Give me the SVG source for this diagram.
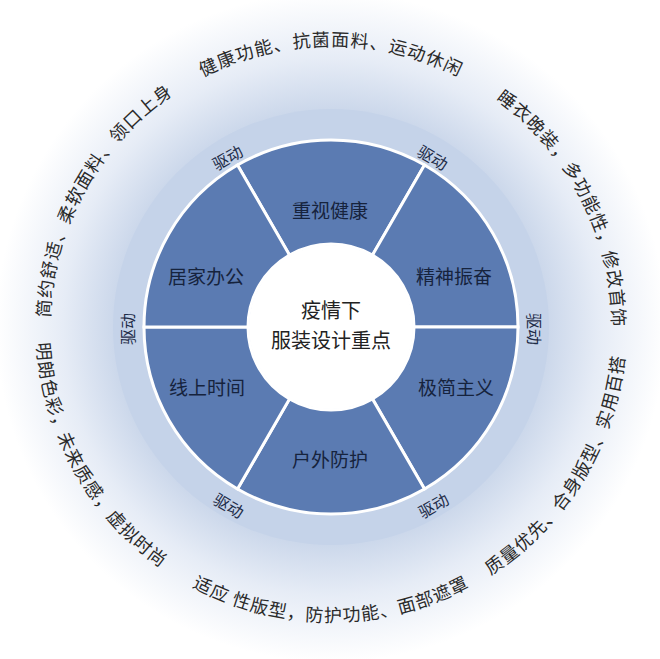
<svg xmlns="http://www.w3.org/2000/svg" xmlns:xlink="http://www.w3.org/1999/xlink" width="660" height="659" viewBox="0 0 660 659">
<style>
text{font-family:"Noto Sans CJK SC","Noto Sans",sans-serif}
.seg{fill:#5b7bb2;stroke:#ffffff;stroke-width:3}
.lbl{font-size:19px;fill:#16233d;text-anchor:middle;dominant-baseline:central}
.drv{font-size:16px;fill:#1e2c48;text-anchor:middle;dominant-baseline:central}
.out{font-size:18px;fill:#2a2a2a;letter-spacing:1px}
</style>
<defs>
<radialGradient id="glow" cx="331" cy="327" r="335" gradientUnits="userSpaceOnUse">
<stop offset="0.6" stop-color="#c3d1e7"/>
<stop offset="0.8" stop-color="#e6ecf6"/>
<stop offset="1" stop-color="#ffffff"/>
</radialGradient>
<path id="p1" d="M154.2,545.4 A281,281 0 0 1 422.5,61.3"/>
<path id="p2" d="M54.3,278.2 A281,281 0 0 1 607.7,278.2"/>
<path id="p3" d="M248.8,58.3 A281,281 0 0 1 500.1,551.4"/>
<path id="p4" d="M222.9,601.5 A295,295 0 0 0 526.5,106.0"/>
<path id="p5" d="M40.5,378.2 A295,295 0 0 0 621.5,378.2"/>
<path id="p6" d="M145.4,97.8 A295,295 0 0 0 427.0,605.9"/>
</defs>
<rect width="660" height="659" fill="#ffffff"/>
<circle cx="331" cy="327" r="335" fill="url(#glow)"/>
<circle id="ring" cx="331" cy="327" r="218" fill="#c5d3e9"/>
<g id="n-top"><path class="seg" d="M237.5,165 A187,187 0 0 1 424.5,165 L372.5,255.1 A83,83 0 0 0 289.5,255.1 Z"/><text class="lbl" x="330" y="209">重视健康</text></g>
<g id="n-ur"><path class="seg" d="M424.5,165 A187,187 0 0 1 518,327 L414,327 A83,83 0 0 0 372.5,255.1 Z"/><text class="lbl" x="454" y="275">精神振奋</text></g>
<g id="n-lr"><path class="seg" d="M518,327 A187,187 0 0 1 424.5,489 L372.5,398.9 A83,83 0 0 0 414,327 Z"/><text class="lbl" x="456" y="386">极简主义</text></g>
<g id="n-bot"><path class="seg" d="M424.5,489 A187,187 0 0 1 237.5,489 L289.5,398.9 A83,83 0 0 0 372.5,398.9 Z"/><text class="lbl" x="330" y="458">户外防护</text></g>
<g id="n-ll"><path class="seg" d="M237.5,489 A187,187 0 0 1 144,327 L248,327 A83,83 0 0 0 289.5,398.9 Z"/><text class="lbl" x="207" y="386">线上时间</text></g>
<g id="n-ul"><path class="seg" d="M144,327 A187,187 0 0 1 237.5,165 L289.5,255.1 A83,83 0 0 0 248,327 Z"/><text class="lbl" x="206" y="275">居家办公</text></g>
<g id="n-center"><circle cx="331" cy="327" r="82" fill="#ffffff"/><text class="lbl" x="331" y="309" style="font-size:20px;fill:#222">疫情下</text><text class="lbl" x="331" y="339" style="font-size:20px;fill:#222">服装设计重点</text></g>
<g id="connectors">
<text class="drv" transform="translate(227,157) rotate(-30)">驱动</text>
<text class="drv" transform="translate(433,157) rotate(30)">驱动</text>
<text class="drv" transform="translate(535,329) rotate(90)">驱动</text>
<text class="drv" transform="translate(433,505) rotate(-30)">驱动</text>
<text class="drv" transform="translate(229,505) rotate(30)">驱动</text>
<text class="drv" transform="translate(127,329) rotate(-90)">驱动</text>
</g>
<g id="outer">
<text class="out"><textPath xlink:href="#p1" href="#p1" startOffset="50%" text-anchor="middle">简约舒适、柔软面料、领口上身</textPath></text>
<text class="out"><textPath xlink:href="#p2" href="#p2" startOffset="50%" text-anchor="middle">健康功能、抗菌面料、运动休闲</textPath></text>
<text class="out"><textPath xlink:href="#p3" href="#p3" startOffset="50%" text-anchor="middle">睡衣晚装，多功能性，修改首饰</textPath></text>
<text class="out"><textPath xlink:href="#p4" href="#p4" startOffset="50%" text-anchor="middle">质量优先、合身版型、实用百搭</textPath></text>
<text class="out"><textPath xlink:href="#p5" href="#p5" startOffset="50%" text-anchor="middle">适应 性版型，防护功能、面部遮罩</textPath></text>
<text class="out"><textPath xlink:href="#p6" href="#p6" startOffset="50%" text-anchor="middle">明朗色彩，未来质感，虚拟时尚</textPath></text>
</g>
</svg>
